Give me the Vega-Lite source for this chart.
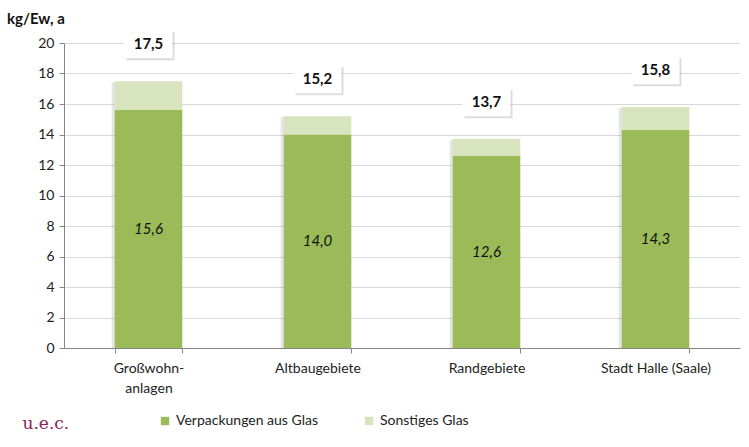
{
  "$schema": "https://vega.github.io/schema/vega-lite/v6.json",
  "width": 676,
  "height": 305,
  "autosize": "none",
  "padding": {"left": 64, "top": 43, "right": 9, "bottom": 99},
  "background": "white",
  "config": {
    "font": "Lato",
    "view": {"stroke": null},
    "axisY": {"tickCount": 12, "labelOverlap": false},
    "locale": {"number": {"decimal": ",", "thousands": ".", "grouping": [3], "currency": ["", " €"]}}
  },
  "title": {"text": "kg/Ew, a", "anchor": "start", "frame": "group", "dx": -57, "offset": 3, "fontSize": 15, "fontWeight": "bold", "color": "#111", "font": "Lato"},
  "datasets": {
    "parts": [
      {"gebiet": "Großwohnanlagen", "art": "Verpackungen aus Glas", "wert": 15.6},
      {"gebiet": "Großwohnanlagen", "art": "Sonstiges Glas", "wert": 1.9},
      {"gebiet": "Altbaugebiete", "art": "Verpackungen aus Glas", "wert": 14.0},
      {"gebiet": "Altbaugebiete", "art": "Sonstiges Glas", "wert": 1.2},
      {"gebiet": "Randgebiete", "art": "Verpackungen aus Glas", "wert": 12.6},
      {"gebiet": "Randgebiete", "art": "Sonstiges Glas", "wert": 1.1},
      {"gebiet": "Stadt Halle (Saale)", "art": "Verpackungen aus Glas", "wert": 14.3},
      {"gebiet": "Stadt Halle (Saale)", "art": "Sonstiges Glas", "wert": 1.5}
    ],
    "totals": [
      {"gebiet": "Großwohnanlagen", "gesamt": 17.5},
      {"gebiet": "Altbaugebiete", "gesamt": 15.2},
      {"gebiet": "Randgebiete", "gesamt": 13.7},
      {"gebiet": "Stadt Halle (Saale)", "gesamt": 15.8}
    ]
  },
  "encoding": {
    "x": {
      "field": "gebiet", "type": "nominal",
      "sort": ["Großwohnanlagen", "Altbaugebiete", "Randgebiete", "Stadt Halle (Saale)"],
      "scale": {"paddingInner": 0.6, "paddingOuter": 0.3},
      "axis": {
        "title": "u.e.c.", "titleFont": "DejaVu Serif", "titleFontSize": 17, "titleFontWeight": "normal", "titleColor": "#8B2252",
        "titleAnchor": "start", "titleAlign": "left", "titleX": -42, "titleY": 80, "titleBaseline": "alphabetic",
        "labelAngle": 0, "labelFontSize": 14, "labelColor": "#222", "labelPadding": 8, "labelLineHeight": 20,
        "labelExpr": "datum.value == 'Großwohnanlagen' ? ['Großwohn-', 'anlagen'] : datum.value",
        "domainColor": "#868686", "tickColor": "#868686", "tickSize": 5, "tickBand": "extent", "grid": false
      }
    }
  },
  "layer": [
    {
      "data": {"name": "totals"},
      "mark": {"type": "bar", "color": "#7f7f7f", "opacity": 0.2, "xOffset": -3, "yOffset": 1},
      "encoding": {"y": {"field": "gesamt", "type": "quantitative", "scale": {"domain": [0, 20]},
          "axis": {"title": null, "values": [0, 2, 4, 6, 8, 10, 12, 14, 16, 18, 20], "tickCount": 12, "labelOverlap": false, "labelFontSize": 14, "labelColor": "#222", "labelPadding": 5,
            "gridColor": "#d9d9d9", "domainColor": "#868686", "tickColor": "#868686", "tickSize": 5}}}
    },
    {
      "data": {"name": "parts"},
      "mark": {"type": "bar"},
      "encoding": {
        "y": {"field": "wert", "type": "quantitative", "stack": "zero"},
        "color": {"field": "art", "type": "nominal",
          "sort": ["Verpackungen aus Glas", "Sonstiges Glas"],
          "scale": {"domain": ["Verpackungen aus Glas", "Sonstiges Glas"], "range": ["#9BBB59", "#D7E4BD"]},
          "legend": {"title": null, "orient": "none", "legendX": 94, "legendY": 371, "direction": "horizontal",
            "symbolType": "square", "symbolSize": 70, "symbolStrokeWidth": 0, "labelFontSize": 14, "labelColor": "#222",
            "columnPadding": 44, "padding": 0}},
        "order": {"field": "art", "sort": "descending"}
      }
    },
    {
      "data": {"name": "parts"},
      "transform": [{"filter": "datum.art == 'Verpackungen aus Glas'"}, {"calculate": "datum.wert / 2", "as": "mitte"}],
      "mark": {"type": "text", "fontSize": 15, "fontStyle": "italic", "color": "#111"},
      "encoding": {
        "y": {"field": "mitte", "type": "quantitative"},
        "text": {"field": "wert", "type": "quantitative", "format": ".1f"}
      }
    },
    {
      "data": {"name": "totals"},
      "mark": {"type": "point", "shape": "M-0.85,-0.5H0.85V0.5H-0.85Z", "size": 3190, "filled": true, "color": "#9a9a9a", "opacity": 0.35, "xOffset": 2, "yOffset": -35},
      "encoding": {"y": {"field": "gesamt", "type": "quantitative"}}
    },
    {
      "data": {"name": "totals"},
      "mark": {"type": "point", "shape": "M-0.85,-0.5H0.85V0.5H-0.85Z", "size": 3190, "filled": true, "color": "white", "opacity": 1, "yOffset": -37},
      "encoding": {"y": {"field": "gesamt", "type": "quantitative"}}
    },
    {
      "data": {"name": "totals"},
      "mark": {"type": "text", "fontSize": 15, "fontWeight": "bold", "color": "#111", "dy": -37},
      "encoding": {
        "y": {"field": "gesamt", "type": "quantitative"},
        "text": {"field": "gesamt", "type": "quantitative", "format": ".1f"}
      }
    }
  ]
}
